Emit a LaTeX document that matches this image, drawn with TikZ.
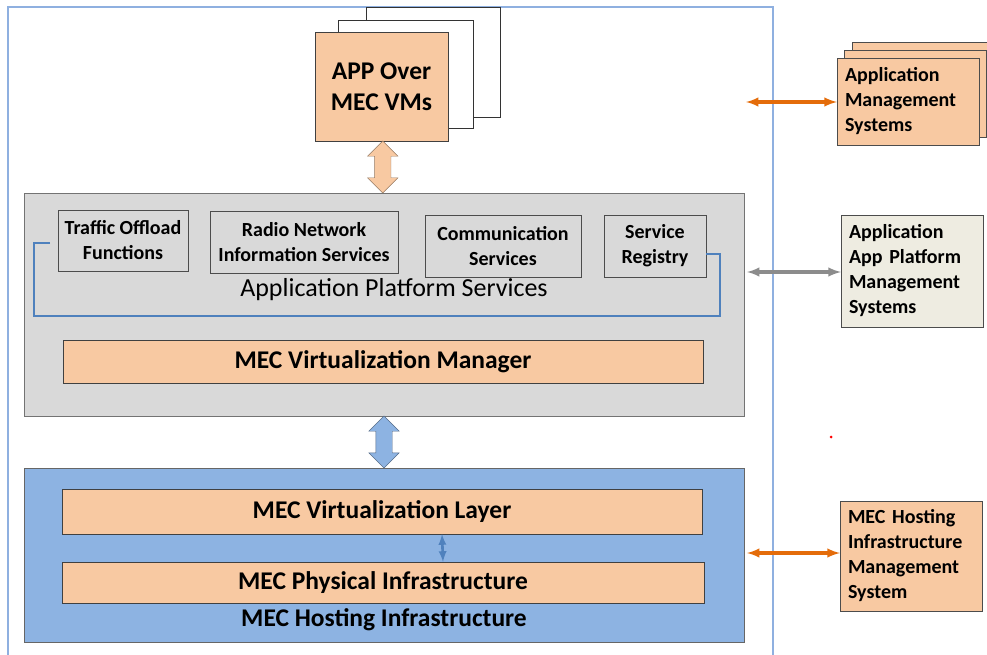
\documentclass[tikz,border=0pt]{standalone}
\usepackage{fontspec}
\setmainfont{Carlito}
\usetikzlibrary{shapes.arrows,calc}
\definecolor{peach}{HTML}{F8C9A2}
\definecolor{panelgray}{HTML}{D9D9D9}
\definecolor{hostblue}{HTML}{8DB3E2}
\definecolor{linkblue}{HTML}{4F81BD}
\definecolor{mgmtorange}{HTML}{E46C0A}
\definecolor{parchment}{HTML}{EEECE1}
\definecolor{framefade}{HTML}{8FB0E0}
\begin{document}
\begin{tikzpicture}[x=1pt,y=-1pt,
    box/.style={draw=black!75, fill=peach, inner sep=0pt, font=\bfseries\fontsize{25.5}{25.5}\selectfont},
    svcbox/.style={draw=black!70, fill=panelgray, inner sep=0pt, align=center, font=\bfseries\fontsize{20}{25}\selectfont},
    mgmtbox/.style={draw=black!70, fill=peach, inner sep=0pt, text width=126pt, align=left, font=\bfseries\fontsize{20}{25}\selectfont},
    fatarrow/.style={shape=double arrow, rotate=90, draw=#1!60!black, inner xsep=0pt, inner ysep=8pt, double arrow head extend=7pt},
    mgmtlink/.style={<->, >=latex, line width=3.2pt}]
    \useasboundingbox (0,0) rectangle (987,655);

    % outer frame
    \draw[framefade, line width=1.2pt] (8,655) -- (8,7) -- (773,7) -- (773,655);

    % application over VMs
    \node[draw=black!80, fill=white, minimum width=134pt, minimum height=110pt] (vm3) at (433,62) {};
    \node[draw=black!80, fill=white, minimum width=135pt, minimum height=108pt] (vm2) at (405.5,74) {};
    \node[box, minimum width=133pt, minimum height=109pt, align=center, font=\bfseries\fontsize{25.5}{31}\selectfont] (app) at (381.5,86.5) {APP Over\\MEC VMs};

    % platform
    \node[draw=black!55, fill=panelgray, minimum width=720pt, minimum height=223pt] (gp) at (384,304.5) {};
    \node[svcbox, minimum width=130pt, minimum height=61pt] (tof) at (123,240.5) {Traffic Offload\\Functions};
    \node[svcbox, minimum width=188pt, minimum height=62pt] (rnis) at (304,242) {Radio Network\\Information Services};
    \node[svcbox, minimum width=156pt, minimum height=62pt] (comm) at (503,246) {Communication\\Services};
    \node[svcbox, minimum width=102pt, minimum height=62pt] (sr) at (655,246) {Service\\Registry};
    \node[font=\fontsize{26}{26}\selectfont] (aps) at (394,290) {Application Platform Services};
    \draw[linkblue, line width=1.8pt] (50,243) -- (34,243) -- (34,316) -- (720,316) -- (720,254) -- ([yshift=-8pt]sr.east);
    \node[box, minimum width=640pt, minimum height=43pt] (vmm) at (383,361.5) {MEC Virtualization Manager};

    % hosting infrastructure
    \node[draw=black!60, fill=hostblue, minimum width=720pt, minimum height=174pt] (hi) at (384,555) {};
    \node[box, minimum width=640pt, minimum height=45pt] (vl) at (382,511.5) {MEC Virtualization Layer};
    \node[box, minimum width=642pt, minimum height=41pt] (pi) at (383,582.5) {MEC Physical Infrastructure};
    \node[font=\bfseries\fontsize{25.5}{25.5}\selectfont] (hil) at (384,620) {MEC Hosting Infrastructure};
    \draw[<->, >=latex, linkblue, line width=2.6pt] ($(vl.south)+(60,0)$) -- ($(pi.north)+(60,0)$);

    % vertical links
    \node[fatarrow=peach, fill=peach, minimum height=52pt] (a1) at ($(app.south)!0.5!(gp.north)$) {};
    \node[fatarrow=hostblue, fill=hostblue, minimum height=52pt] (a2) at ($(gp.south)!0.5!(hi.north)$) {};

    % management systems
    \node[mgmtbox, minimum width=142pt, minimum height=87pt] (ams3) at (923,85.5) {};
    \node[mgmtbox, minimum width=142pt, minimum height=87pt] (ams2) at (915,93.5) {};
    \node[mgmtbox, minimum width=142pt, minimum height=87pt] (ams) at (908,101.5) {Application\\Management\\Systems};
    \node[mgmtbox, fill=parchment, minimum width=142pt, minimum height=112pt] (apms) at (912,271) {Application\\App Platform\\Management\\Systems};
    \node[mgmtbox, minimum width=142pt, minimum height=110pt] (hims) at (911,556) {MEC Hosting\\Infrastructure\\Management\\System};

    \coordinate (c1) at (746,102);
    \coordinate (c2) at (747,272);
    \coordinate (c3) at (747,553);
    \draw[mgmtlink, mgmtorange] (c1) -- (c1 -| ams.west);
    \draw[mgmtlink, black!45] (c2) -- (c2 -| apms.west);
    \draw[mgmtlink, mgmtorange] (c3) -- (c3 -| hims.west);

    \fill[red] (831,437) circle (1.5);
\end{tikzpicture}
\end{document}
